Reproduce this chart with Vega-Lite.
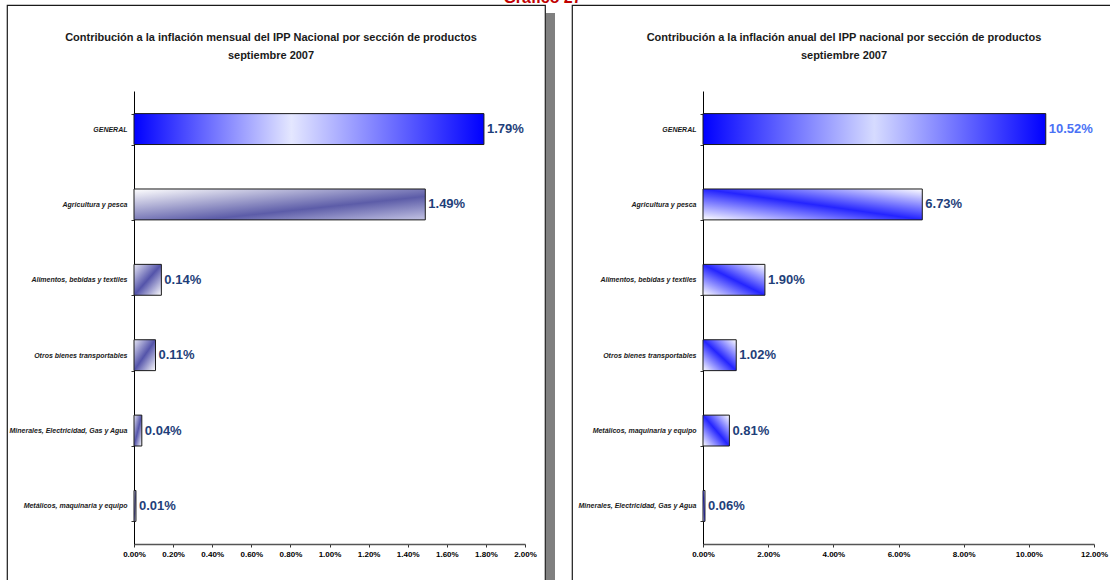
{
  "$schema": "https://vega.github.io/schema/vega-lite/v6.json",
  "padding": {"left": 6, "top": -10, "right": -11, "bottom": -16},
  "background": "white",
  "title": {"text": "Gráfico 27", "color": "#C00000", "fontSize": 16, "font": "Liberation Sans", "fontWeight": "bold", "anchor": "start", "frame": "bounds", "offset": -6, "dx": 497},
  "datasets": {
    "mensual": [
      {"seccion": "GENERAL", "valor": 0.0179},
      {"seccion": "Agricultura y pesca", "valor": 0.0149},
      {"seccion": "Alimentos, bebidas y textiles", "valor": 0.0014},
      {"seccion": "Otros bienes transportables", "valor": 0.0011},
      {"seccion": "Minerales, Electricidad, Gas y Agua", "valor": 0.0004},
      {"seccion": "Metálicos, maquinaria y equipo", "valor": 0.0001}
    ],
    "anual": [
      {"seccion": "GENERAL", "valor": 0.1052},
      {"seccion": "Agricultura y pesca", "valor": 0.0673},
      {"seccion": "Alimentos, bebidas y textiles", "valor": 0.019},
      {"seccion": "Otros bienes transportables", "valor": 0.0102},
      {"seccion": "Metálicos, maquinaria y equipo", "valor": 0.0081},
      {"seccion": "Minerales, Electricidad, Gas y Agua", "valor": 0.0006}
    ]
  },
  "spacing": 16,
  "hconcat": [
    {
      "spacing": 1,
      "center": true,
      "bounds": "flush",
      "hconcat": [
        {
          "width": 538,
          "height": 590,
          "data": {"name": "mensual"},
          "title": {
            "text": ["Contribución a la inflación mensual del IPP Nacional por sección de productos", "septiembre 2007"],
            "offset": -60, "dx": -5
          },
          "encoding": {
            "y": {
              "field": "seccion", "type": "nominal",
              "sort": ["GENERAL", "Agricultura y pesca", "Alimentos, bebidas y textiles", "Otros bienes transportables", "Minerales, Electricidad, Gas y Agua", "Metálicos, maquinaria y equipo"],
              "scale": {"range": [86, 539], "paddingInner": 0.59, "paddingOuter": 0.3},
              "axis": {"offset": -127}
            },
            "x": {
              "field": "valor", "type": "quantitative",
              "scale": {"domain": [0, 0.02], "range": [127, 518]},
              "axis": {"offset": -51, "values": [0, 0.002, 0.004, 0.006, 0.008, 0.01, 0.012, 0.014, 0.016, 0.018, 0.02], "format": ".2%"}
            }
          },
          "layer": [
            {
              "transform": [{"filter": "datum.seccion === 'GENERAL'"}],
              "mark": {"type": "bar", "stroke": "#1a1a1a", "strokeWidth": 1,
                "fill": {"gradient": "linear", "x1": 0, "y1": 0, "x2": 1, "y2": 0, "stops": [{"offset": 0, "color": "#0000FF"}, {"offset": 0.45, "color": "#E4E7FF"}, {"offset": 1, "color": "#0000FF"}]}}
            },
            {
              "transform": [{"filter": "datum.seccion === 'Agricultura y pesca'"}],
              "mark": {"type": "bar", "stroke": "#1a1a1a", "strokeWidth": 1,
                "fill": {"gradient": "linear", "x1": 0, "y1": 0, "x2": 1, "y2": 1, "stops": [{"offset": 0, "color": "#FFFFFF"}, {"offset": 0.62, "color": "#5C5CA8"}, {"offset": 1, "color": "#C4C4E4"}]}}
            },
            {
              "transform": [{"filter": "datum.seccion !== 'GENERAL' && datum.seccion !== 'Agricultura y pesca'"}],
              "mark": {"type": "bar", "stroke": "#1a1a1a", "strokeWidth": 1,
                "fill": {"gradient": "linear", "x1": 0, "y1": 0, "x2": 1, "y2": 1, "stops": [{"offset": 0, "color": "#E6E6F4"}, {"offset": 0.5, "color": "#5454AA"}, {"offset": 1, "color": "#FFFFFF"}]}}
            },
            {
              "mark": {"type": "text", "align": "left", "baseline": "middle", "dx": 3, "font": "Liberation Sans Narrow, Arial Narrow, Liberation Sans, sans-serif", "fontWeight": "bold", "fontSize": 13, "color": "#1F3F7A"},
              "encoding": {"text": {"field": "valor", "type": "quantitative", "format": ".2%"}}
            }
          ]
        },
        {
          "width": 9,
          "height": 574,
          "view": {"fill": "#808080", "stroke": null},
          "data": {"values": []},
          "mark": "point"
        }
      ]
    },
    {
      "width": 550,
      "height": 590,
      "data": {"name": "anual"},
      "title": {
        "text": ["Contribución a la inflación anual del IPP nacional por sección de productos", "septiembre 2007"],
        "offset": -60, "dx": -3
      },
      "encoding": {
        "y": {
          "field": "seccion", "type": "nominal",
          "sort": ["GENERAL", "Agricultura y pesca", "Alimentos, bebidas y textiles", "Otros bienes transportables", "Metálicos, maquinaria y equipo", "Minerales, Electricidad, Gas y Agua"],
          "scale": {"range": [86, 539], "paddingInner": 0.59, "paddingOuter": 0.3},
          "axis": {"offset": -131}
        },
        "x": {
          "field": "valor", "type": "quantitative",
          "scale": {"domain": [0, 0.12], "range": [131, 522]},
          "axis": {"offset": -51, "values": [0, 0.02, 0.04, 0.06, 0.08, 0.1, 0.12], "format": ".2%"}
        }
      },
      "layer": [
        {
          "transform": [{"filter": "datum.seccion === 'GENERAL'"}],
          "mark": {"type": "bar", "stroke": "#1a1a1a", "strokeWidth": 1,
            "fill": {"gradient": "linear", "x1": 0, "y1": 0, "x2": 1, "y2": 0, "stops": [{"offset": 0, "color": "#0000FF"}, {"offset": 0.5, "color": "#D6DBFF"}, {"offset": 1, "color": "#0000FF"}]}}
        },
        {
          "transform": [{"filter": "datum.seccion !== 'GENERAL'"}],
          "mark": {"type": "bar", "stroke": "#1a1a1a", "strokeWidth": 1,
            "fill": {"gradient": "linear", "x1": 0, "y1": 1, "x2": 1, "y2": 0, "stops": [{"offset": 0, "color": "#FFFFFF"}, {"offset": 0.5, "color": "#2424FF"}, {"offset": 1, "color": "#FFFFFF"}]}}
        },
        {
          "mark": {"type": "text", "align": "left", "baseline": "middle", "dx": 3, "font": "Liberation Sans Narrow, Arial Narrow, Liberation Sans, sans-serif", "fontWeight": "bold", "fontSize": 13},
          "encoding": {
            "text": {"field": "valor", "type": "quantitative", "format": ".2%"},
            "color": {"condition": {"test": "datum.seccion === 'GENERAL'", "value": "#4A72F5"}, "value": "#1F3F7A"}
          }
        }
      ]
    }
  ],
  "config": {
    "view": {"stroke": "#1a1a1a", "strokeWidth": 1.2},
    "title": {"font": "Liberation Sans Narrow, Arial Narrow, Liberation Sans, sans-serif", "fontSize": 11, "fontWeight": "bold", "color": "#1a1a1a", "lineHeight": 18, "anchor": "middle", "frame": "group"},
    "axis": {"title": null, "grid": false, "domainColor": "#333333", "tickColor": "#333333", "labelColor": "#000000", "labelFont": "Liberation Sans Narrow, Arial Narrow, Liberation Sans, sans-serif", "labelFontWeight": "bold"},
    "axisX": {"labelFontSize": 8, "tickSize": 3, "labelPadding": 3, "labelFlush": false, "labelOverlap": false, "domainColor": "#555555", "domainWidth": 1.5},
    "axisY": {"labelFontSize": 7, "labelFontStyle": "italic", "tickBand": "extent", "tickSize": 3, "labelPadding": 4, "domainColor": "#000000", "labelLimit": 200, "labelColor": "#1a1a1a"}
  }
}
